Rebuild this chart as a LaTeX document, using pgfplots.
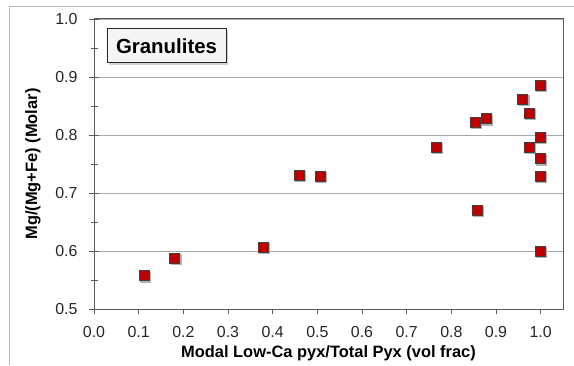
\documentclass[border=0pt]{standalone}
\usepackage{pgfplots}
\pgfplotsset{compat=1.18}
\usepackage{fontspec}
\setmainfont{Liberation Sans}
\usetikzlibrary{shadows}
\definecolor{mkred}{RGB}{192,0,0}
\definecolor{axgray}{RGB}{90,90,90}
\definecolor{gridgray}{RGB}{170,170,170}
\begin{document}
\begin{tikzpicture}[x=1bp,y=1bp]
\draw[gray!55, line width=1bp] (9,0) -- (9,358) -- (574,358);
\begin{axis}[
  at={(94bp,56bp)}, anchor=south west,
  scale only axis, width=469bp, height=290bp,
  xmin=0, xmax=1.05, ymin=0.5, ymax=1.0,
  xtick={0,0.1,0.2,0.3,0.4,0.5,0.6,0.7,0.8,0.9,1.0},
  ytick={0.5,0.6,0.7,0.8,0.9,1.0},
  minor ytick={0.55,0.65,0.75,0.85,0.95},
  axis line style={axgray, line width=1bp},
  every tick/.style={axgray, line width=0.8bp},
  xtick align=outside, xtick pos=bottom,
  ytick align=center, ytick pos=left,
  major tick length=10bp, minor tick length=7bp,
  xtick style={/pgfplots/major tick length=5bp},
  ymajorgrids, major grid style={gridgray, line width=0.9bp},
  /pgf/number format/.cd, fixed, fixed zerofill, precision=1, assume math mode=true,
  /pgfplots/.cd,
  tick label style={font=\fontsize{16}{16}\selectfont, text=black!85},
  xticklabel style={yshift=-4bp},
  yticklabel style={xshift=-8bp},
  label style={font=\bfseries\fontsize{16.5}{16.5}\selectfont},
  xlabel={Modal Low-Ca pyx/Total Pyx (vol frac)},
  ylabel={Mg/(Mg+Fe) (Molar)},
  xlabel style={at={(axis description cs:0.5,-0.1517)}, anchor=center},
  ylabel style={at={(axis description cs:-0.130,0.5)}, anchor=center},
  clip=false,
]
\addplot[only marks, mark=square*, mark size=5bp,
  mark options={fill=black!30, draw=black!30, line width=0.9bp, xshift=1.2bp, yshift=-1.2bp}, forget plot] coordinates {
  (0.112,0.557) (0.181,0.587) (0.379,0.606) (0.460,0.731) (0.507,0.729)
  (0.767,0.779) (0.854,0.822) (0.879,0.828) (0.859,0.670) (0.960,0.862)
  (0.974,0.837) (0.974,0.779) (1.0,0.885) (1.0,0.796) (1.0,0.759)
  (1.0,0.729) (1.0,0.600)
};
\addplot[only marks, mark=square*, mark size=5bp,
  mark options={fill=mkred, draw=black!75, line width=0.9bp}] coordinates {
  (0.112,0.557) (0.181,0.587) (0.379,0.606) (0.460,0.731) (0.507,0.729)
  (0.767,0.779) (0.854,0.822) (0.879,0.828) (0.859,0.670) (0.960,0.862)
  (0.974,0.837) (0.974,0.779) (1.0,0.885) (1.0,0.796) (1.0,0.759)
  (1.0,0.729) (1.0,0.600)
};
\node[draw=black!85, line width=1bp, fill=gray!8, minimum width=119bp, minimum height=34bp,
  inner sep=0pt, font=\bfseries\fontsize{20.5}{20.5}\selectfont,
  drop shadow={shadow xshift=2bp, shadow yshift=-2bp, opacity=0.35}]
  at (rel axis cs:0.1546,0.907) {Granulites};
\end{axis}
\pgfresetboundingbox
\path[use as bounding box] (0,0) rectangle (574,365);
\end{tikzpicture}
\end{document}
